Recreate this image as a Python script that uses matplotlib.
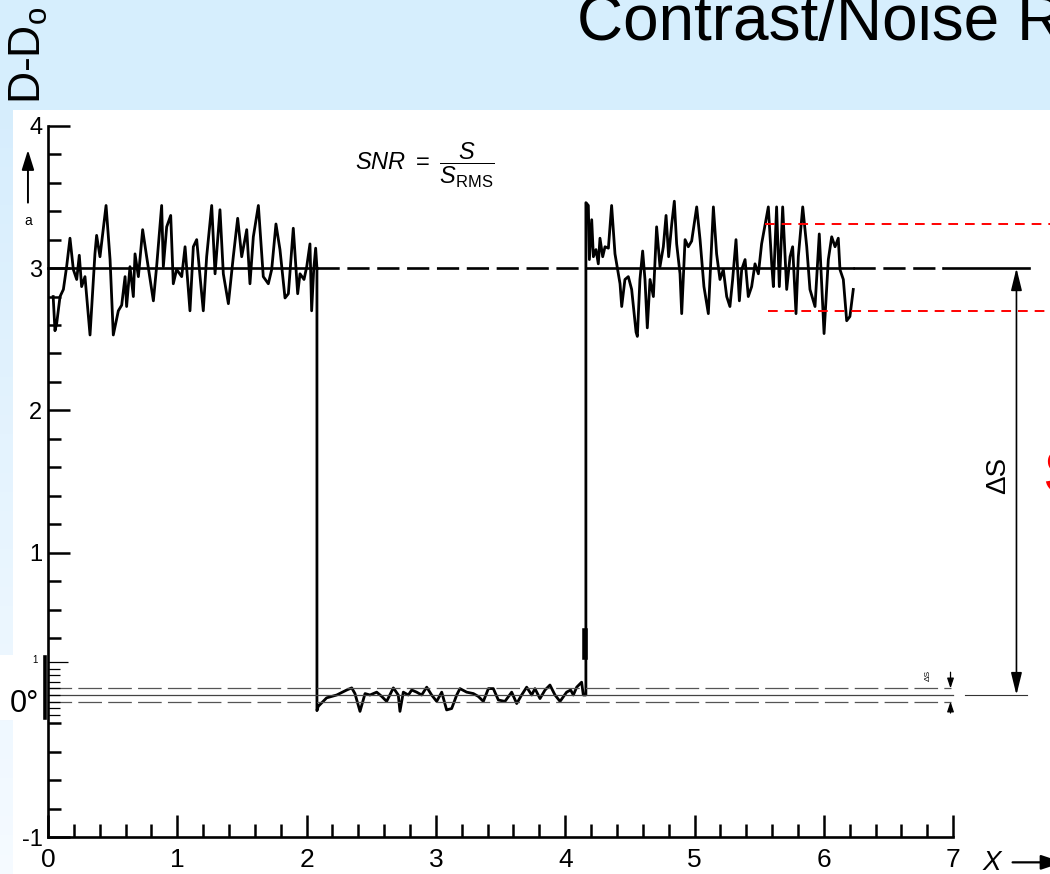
import matplotlib
matplotlib.use("Agg")
import matplotlib.pyplot as plt
from matplotlib import font_manager
from matplotlib.patches import Rectangle
from matplotlib.ticker import FixedLocator

left_x = [0.04, 0.054, 0.067, 0.093, 0.119, 0.144, 0.170, 0.196, 0.222, 0.242, 0.260, 0.286,
          0.325, 0.363, 0.376, 0.402, 0.449, 0.480, 0.505, 0.544, 0.570, 0.596, 0.608, 0.634,
          0.660, 0.673, 0.699, 0.732, 0.763, 0.815, 0.840, 0.879, 0.892, 0.918, 0.949, 0.969,
          0.995, 1.034, 1.060, 1.098, 1.124, 1.150, 1.176, 1.201, 1.227, 1.266, 1.292, 1.330,
          1.356, 1.395, 1.433, 1.467, 1.498, 1.537, 1.562, 1.588, 1.627, 1.665, 1.704, 1.730,
          1.763, 1.794, 1.833, 1.859, 1.897, 1.931, 1.949, 1.980, 2.001, 2.026, 2.039, 2.055,
          2.070, 2.08]
left_y = [2.80, 2.56, 2.61, 2.80, 2.85, 3.01, 3.21, 2.99, 2.92, 3.09, 2.87, 2.94,
          2.53, 3.10, 3.23, 3.08, 3.44, 3.06, 2.53, 2.70, 2.74, 2.94, 2.73, 3.01,
          2.80, 3.10, 2.94, 3.27, 3.08, 2.77, 3.01, 3.44, 3.01, 3.29, 3.37, 2.89,
          2.99, 2.94, 3.15, 2.70, 3.15, 3.20, 2.94, 2.70, 3.08, 3.44, 2.96, 3.41,
          2.96, 2.75, 3.08, 3.35, 3.08, 3.27, 2.89, 3.22, 3.44, 2.94, 2.89, 2.99,
          3.31, 3.13, 2.79, 2.82, 3.28, 2.82, 2.96, 2.92, 3.01, 3.17, 2.70, 2.99,
          3.14, 3.00]

low_x = [2.09, 2.155, 2.233, 2.31, 2.349, 2.374, 2.413, 2.452, 2.49, 2.542, 2.581, 2.619,
         2.671, 2.709, 2.722, 2.748, 2.787, 2.813, 2.851, 2.89, 2.929, 2.967, 3.006, 3.045,
         3.083, 3.122, 3.161, 3.186, 3.238, 3.29, 3.328, 3.367, 3.406, 3.444, 3.483, 3.534,
         3.586, 3.625, 3.663, 3.702, 3.741, 3.766, 3.805, 3.844, 3.882, 3.921, 3.96, 4.011,
         4.042, 4.063, 4.089, 4.127, 4.14]
low_y = [-0.08, -0.02, 0.0, 0.035, 0.05, 0.01, -0.115, 0.01, 0.0, 0.02, -0.01, -0.045,
         0.05, 0.0, -0.115, 0.02, 0.0, 0.035, 0.02, 0.0, 0.055, 0.0, -0.045, 0.02,
         -0.105, -0.095, 0.0, 0.045, 0.02, 0.01, -0.01, -0.045, 0.045, 0.045, -0.035, -0.045,
         0.02, -0.06, 0.0, 0.055, 0.0, 0.045, -0.025, 0.035, 0.07, 0.0, -0.045, 0.02,
         0.035, 0.0, 0.055, 0.09, 0.0]

right_x = [4.179, 4.187, 4.205, 4.218, 4.238, 4.256, 4.269, 4.290, 4.308, 4.334, 4.359, 4.385,
           4.424, 4.437, 4.462, 4.488, 4.514, 4.548, 4.558, 4.578, 4.599, 4.617, 4.635, 4.656,
           4.682, 4.707, 4.733, 4.759, 4.780, 4.800, 4.824, 4.844, 4.862, 4.888, 4.901, 4.927,
           4.952, 4.978, 5.017, 5.043, 5.073, 5.107, 5.146, 5.171, 5.197, 5.223, 5.249, 5.274,
           5.295, 5.321, 5.347, 5.365, 5.391, 5.416, 5.442, 5.468, 5.494, 5.519, 5.571, 5.597,
           5.610, 5.635, 5.656, 5.682, 5.713, 5.739, 5.759, 5.785, 5.803, 5.837, 5.868, 5.893,
           5.932, 5.965, 6.002, 6.035, 6.061, 6.087, 6.112, 6.125, 6.151, 6.177, 6.202, 6.228]
right_y = [3.44, 3.06, 3.34, 3.08, 3.13, 3.03, 3.21, 3.08, 3.15, 3.14, 3.44, 3.10,
           2.89, 2.73, 2.92, 2.94, 2.85, 2.55, 2.52, 2.92, 3.12, 2.92, 2.58, 2.92,
           2.80, 3.29, 3.01, 3.15, 3.37, 3.08, 3.31, 3.47, 3.17, 2.96, 2.68, 3.20,
           3.15, 3.19, 3.43, 3.20, 2.87, 2.68, 3.43, 3.10, 2.92, 2.99, 2.80, 2.73,
           2.92, 3.20, 2.77, 2.99, 3.06, 2.80, 2.87, 3.03, 2.96, 3.17, 3.43, 3.03,
           2.87, 3.43, 2.87, 3.43, 2.85, 3.08, 3.15, 2.68, 3.08, 3.43, 3.15, 2.85,
           2.73, 3.24, 2.54, 3.06, 3.22, 3.15, 3.21, 2.99, 2.92, 2.63, 2.66, 2.85]

edge_fall = 2.08
edge_rise = 4.16
nivel = 3.0
topo_borda = 3.46
fundo_borda = -0.11
ruido_sup = 3.31
ruido_inf = 2.70
sigma_inset = 0.046

x_ticks = [0, 1, 2, 3, 4, 5, 6, 7]
y_ticks = [-1, 1, 2, 3, 4]
y_minor = [-0.8, -0.6, -0.4, -0.2, 0.4, 0.6, 0.8, 1.2, 1.4, 1.6, 1.8, 2.2, 2.4, 2.6, 2.8,
           3.2, 3.4, 3.6, 3.8]

nomes = {f.name for f in font_manager.fontManager.ttflist}
estreita = 'Liberation Sans Narrow' if 'Liberation Sans Narrow' in nomes else 'Liberation Sans'
plt.rcParams['font.family'] = [estreita, 'DejaVu Sans']
plt.rcParams['lines.scale_dashes'] = False
plt.rcParams['mathtext.fontset'] = 'custom'
plt.rcParams['mathtext.it'] = estreita + ':italic'
plt.rcParams['mathtext.rm'] = estreita

W, H = 1050, 874
fig = plt.figure(figsize=(W / 100, H / 100), dpi=100)

# fundo do slide: faixa azul no topo e faixa lateral em degrade
fig.add_artist(Rectangle((0, 1 - 110 / H), 1, 110 / H, transform=fig.transFigure,
                         color='#d6eefd', zorder=-3, lw=0))
n = 40
for i in range(n):
    t = i / (n - 1)
    cor = (0.84 + 0.12 * t, 0.93 + 0.05 * t, 0.99 + 0.01 * t)
    h = (H - 110) / H / n
    fig.add_artist(Rectangle((0, (1 - 110 / H) - (i + 1) * h), 13 / W, h * 1.02,
                             transform=fig.transFigure, color=cor, zorder=-3, lw=0))
fig.add_artist(Rectangle((0, 1 - 720 / H), 60 / W, 65 / H, transform=fig.transFigure,
                         color='white', zorder=-2, lw=0))

ax = fig.add_axes([0, 0, 1, 1])
ax.patch.set_visible(False)
ax.set_xlim(-48 / 129.3, (W - 48) / 129.3)
ax.set_ylim((695 - H) / 142.3, 695 / 142.3)

for s in ['top', 'right']:
    ax.spines[s].set_visible(False)
ax.spines['left'].set_position(('data', 0))
ax.spines['left'].set_bounds(-1, 4)
ax.spines['bottom'].set_position(('data', -1))
ax.spines['bottom'].set_bounds(0, 7)
ax.spines['left'].set_linewidth(1.9)
ax.spines['bottom'].set_linewidth(1.9)

ax.xaxis.set_major_locator(FixedLocator(x_ticks))
ax.xaxis.set_minor_locator(FixedLocator([i * 0.2 for i in range(36) if i % 5]))
ax.yaxis.set_major_locator(FixedLocator(y_ticks))
ax.yaxis.set_minor_locator(FixedLocator(y_minor))
ax.set_xticklabels([str(v) for v in x_ticks])
ax.set_yticklabels([str(v) for v in y_ticks])
ax.tick_params(which='both', direction='in', width=1.8, color='k')
ax.tick_params(which='major', length=15.8)
ax.tick_params(which='minor', length=9.4)
ax.tick_params(axis='x', pad=8, labelsize=19)
ax.tick_params(axis='y', pad=4, labelsize=17)

# sinal
sx = left_x + [edge_fall] + low_x + [edge_rise, edge_rise] + right_x
sy = left_y + [fundo_borda] + low_y + [0.0, topo_borda] + right_y
ax.plot(sx, sy, color='k', lw=2.0, solid_joinstyle='round')
ax.plot([edge_rise - 0.006] * 2, [0.27, 0.45], color='k', lw=4)

# nivel medio do sinal
tracejado = (0, (16, 5.5))
ax.plot([0, edge_fall], [nivel] * 2, color='k', lw=1.9)
ax.plot([edge_fall, edge_rise], [nivel] * 2, color='k', lw=1.9, ls=tracejado)
ax.plot([edge_rise, right_x[-1]], [nivel] * 2, color='k', lw=1.9)
ax.plot([right_x[-1], 6.92], [nivel] * 2, color='k', lw=1.9, ls=tracejado)
ax.plot([6.92, 7.59], [nivel] * 2, color='k', lw=1.9)

# limites do ruido (vermelho)
ax.plot([5.545, 7.8], [ruido_sup] * 2, color='red', lw=1.4, ls=(0, (7, 5)))
ax.plot([5.568, 7.8], [ruido_inf] * 2, color='red', lw=1.4, ls=(0, (7, 5)))

# linhas do detalhe ampliado em torno de zero
ax.plot([0, 7], [0, 0], color='#444444', lw=0.9)
ax.plot([0, 6.98], [sigma_inset] * 2, color='#555555', lw=0.9, ls=(0, (17, 4.5)))
ax.plot([0, 6.98], [-sigma_inset] * 2, color='#555555', lw=0.9, ls=(0, (17, 4.5)))
ax.plot([7.09, 7.57], [0, 0], color='#333333', lw=0.8)
ax.plot([-0.022, -0.022], [-0.165, 0.27], color='k', lw=2.6)
inset_ticks = [k * sigma_inset for k in range(-3, 6)]
ax.hlines(inset_ticks[:-1], 0, 0.093, color='k', lw=0.9)
ax.hlines(inset_ticks[-1:], 0, 0.155, color='k', lw=0.9)
ax.text(-0.10, 0.245, '1', fontsize=7, ha='center', va='center')
ax.text(-0.294, -0.12, '0°', fontsize=22, family='Liberation Sans', va='baseline')

# setas
ax.annotate('', xy=(7.49, nivel), xytext=(7.49, 0),
            arrowprops=dict(arrowstyle='<|-|>,head_length=0.9,head_width=0.22', lw=1.2,
                            color='k', shrinkA=0, shrinkB=0, mutation_scale=15))
ax.annotate('', xy=(6.98, sigma_inset), xytext=(6.98, 0.16),
            arrowprops=dict(arrowstyle='-|>,head_length=0.6,head_width=0.2', lw=0.9,
                            color='k', shrinkA=0, shrinkB=0, mutation_scale=10))
ax.annotate('', xy=(6.98, -sigma_inset), xytext=(6.98, -0.127),
            arrowprops=dict(arrowstyle='-|>,head_length=0.6,head_width=0.2', lw=0.9,
                            color='k', shrinkA=0, shrinkB=0, mutation_scale=10))
ax.annotate('', xy=(-0.155, 3.83), xytext=(-0.155, 3.46),
            arrowprops=dict(arrowstyle='-|>,head_length=0.8,head_width=0.25', lw=1.4,
                            color='k', shrinkA=0, shrinkB=0, mutation_scale=15))
ax.annotate('', xy=(7.85, -1.176), xytext=(7.46, -1.176), annotation_clip=False,
            arrowprops=dict(arrowstyle='-|>,head_length=0.9,head_width=0.3', lw=1.6,
                            color='k', shrinkA=0, shrinkB=0, mutation_scale=15))

# textos
ax.text(-0.155, 3.33, 'a', fontsize=10, ha='center', va='center')
ax.text(7.30, -1.18, 'X', fontsize=20, style='italic', ha='center', va='center')
ax.text(2.374, 3.72, r'$SNR\ =\ \dfrac{S}{S_{\mathrm{RMS}}}$', fontsize=17, va='center')
ax.text(7.347, 1.54, 'ΔS', rotation=90, fontsize=20, ha='center', va='center')
ax.text(6.81, 0.134, 'ΔS', rotation=90, fontsize=6, ha='center', va='center')
ax.text(7.695, 1.53, 'S', color='red', fontsize=45, fontweight='bold',
        family='Liberation Sans', ha='left', va='center')

fig.text(577 / W, 1 - 40 / H, 'Contrast/Noise Ratio', fontsize=46, va='baseline')
fig.text(29 / W, 1 - 55 / H, r'D-D$_\mathregular{o}$', rotation=90, fontsize=32,
         family='Liberation Sans', ha='center', va='center')

fig.savefig('out.png', dpi=100)
